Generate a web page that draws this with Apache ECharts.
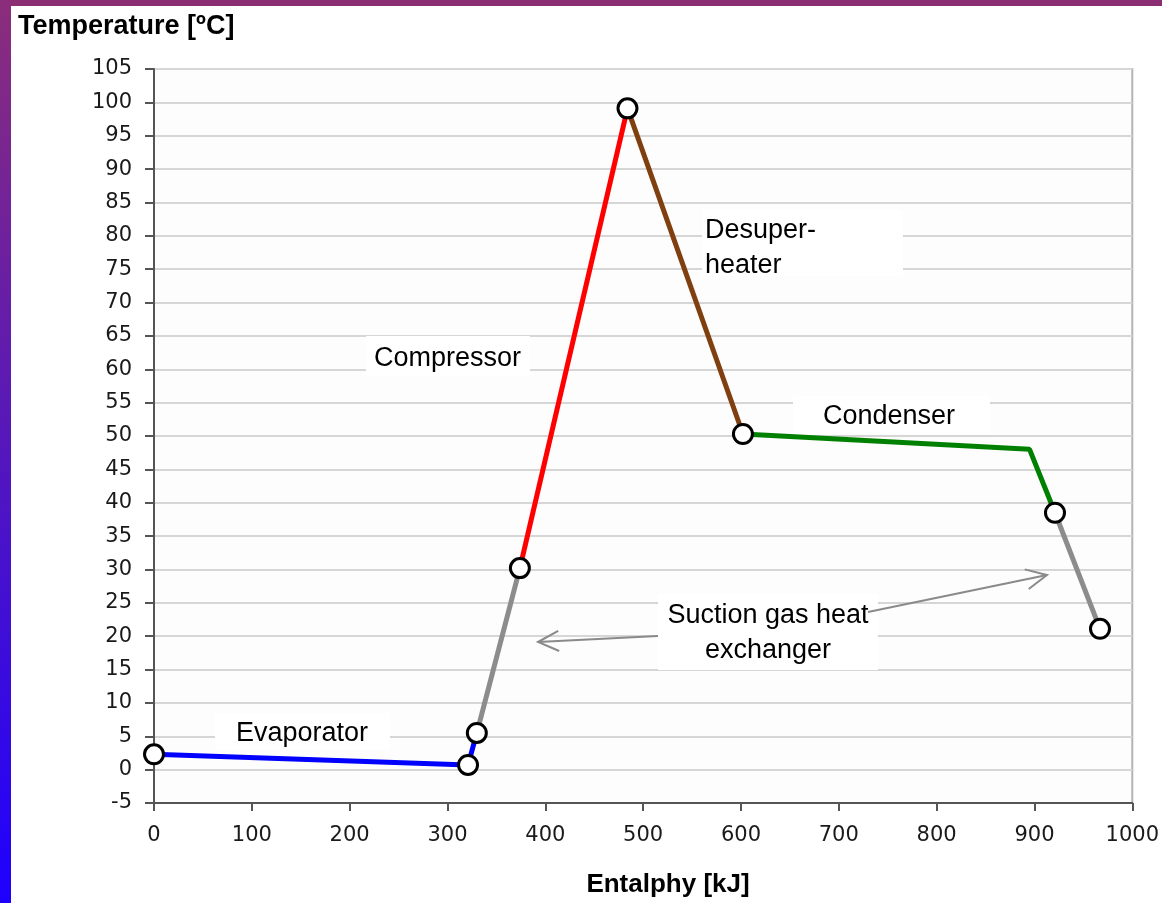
<!DOCTYPE html>
<html lang="en">
	<head>
		<meta charset="UTF-8" />
		<title>Temperature vs Enthalpy</title>
		<script src="https://cdn.jsdelivr.net/npm/echarts@6/dist/echarts.min.js"></script>
		<style>
			html, body { margin: 0; padding: 0; background: #fff; }
			#chart { width: 1162px; height: 903px; }
		</style>
	</head>
	<body>
		<div id="chart"></div>
		<script>
			// process points (enthalpy kJ, temperature C)
			const enthalpy = [0, 321, 330, 374, 484, 602, 895, 921, 967]
			const temperature = [2.3, 0.7, 5.5, 30.2, 99.1, 50.3, 48.0, 38.5, 21.1]
			// segments: [from index, to index, colour]
			const segments = [
				[0, 2, '#0000ff'],
				[2, 3, '#8c8c8c'],
				[3, 4, '#ff0000'],
				[4, 5, '#7f3f0f'],
				[5, 7, '#008000'],
				[7, 8, '#8c8c8c']
			]
			const markerIdx = [0, 1, 2, 3, 4, 5, 7, 8]

			const chart = echarts.init(document.getElementById('chart'), null, { renderer: 'canvas' })

			const lineSeries = segments.map(function (s) {
				const pts = []
				for (let i = s[0]; i <= s[1]; i++) pts.push([enthalpy[i], temperature[i]])
				return {
					type: 'line',
					data: pts,
					showSymbol: false,
					symbol: 'none',
					lineStyle: { color: s[2], width: 5 },
					z: 3,
					animation: false
				}
			})

			const labelFont = '27px "Liberation Sans", Arial, sans-serif'
			const tickFont = { fontFamily: 'DejaVu Sans', fontSize: 21, color: '#1a1a1a', formatter: function (v) { return String(v) } }

			function textBox(x, y, w, h, txt, tx, ty) {
				return [
					{ type: 'rect', shape: { x: x, y: y, width: w, height: h }, style: { fill: '#ffffff' }, z: 5 },
					{ type: 'text', x: tx, y: ty, style: { text: txt, font: labelFont, fill: '#000', lineHeight: 35 }, z: 6 }
				]
			}
			function arrow(x1, y1, x2, y2) {
				const ang = Math.atan2(y2 - y1, x2 - x1)
				const len = 23, spread = 0.45
				const a1 = [x2 - len * Math.cos(ang - spread), y2 - len * Math.sin(ang - spread)]
				const a2 = [x2 - len * Math.cos(ang + spread), y2 - len * Math.sin(ang + spread)]
				const st = { stroke: '#8a8a8a', lineWidth: 2, fill: null }
				return [
					{ type: 'polyline', shape: { points: [[x1, y1], [x2, y2]] }, style: st, z: 6 },
					{ type: 'polyline', shape: { points: [a1, [x2, y2], a2] }, style: st, z: 6 }
				]
			}

			const graphics = [].concat(
				// frame bands
				[
					{ type: 'rect', shape: { x: 0, y: 0, width: 1162, height: 6 }, style: { fill: '#8b2d72' }, z: 10 },
					{
						type: 'rect',
						shape: { x: 0, y: 0, width: 11, height: 903 },
						style: {
							fill: new echarts.graphic.LinearGradient(0, 0, 0, 1, [
								{ offset: 0, color: '#8b2d7a' },
								{ offset: 1, color: '#1e00ff' }
							])
						},
						z: 10
					},
					{ type: 'text', x: 18, y: 13, style: { text: 'Temperature [ºC]', font: 'bold 27px "Liberation Sans", Arial, sans-serif', fill: '#000' }, z: 10 },
					{ type: 'text', x: 668, y: 872, style: { text: 'Entalphy [kJ]', font: 'bold 26px "Liberation Sans", Arial, sans-serif', fill: '#000', align: 'center' }, z: 10 }
				],
				textBox(215, 713, 175, 36, 'Evaporator', 236, 716),
				textBox(366, 336, 164, 40, 'Compressor', 374, 341),
				textBox(702, 210, 201, 66, 'Desuper-\nheater', 705, 213),
				textBox(793, 396, 197, 38, 'Condenser', 823, 399),
				textBox(658, 594, 220, 76, 'Suction gas heat\nexchanger', 768, 598).map(function (g) {
					if (g.type === 'text') g.style.align = 'center'
					return g
				}),
				arrow(658, 636, 538, 642),
				arrow(868, 612, 1047, 575)
			)

			const option = {
				animation: false,
				backgroundColor: '#ffffff',
				grid: {
					left: 154,
					right: 29,
					top: 69,
					bottom: 100,
					show: true,
					backgroundColor: '#fdfdfd',
					borderColor: '#b4b4b4',
					borderWidth: 2
				},
				xAxis: {
					type: 'value',
					min: 0,
					max: 1000,
					interval: 100,
					axisLine: { onZero: false, lineStyle: { color: '#555', width: 2 } },
					axisTick: { show: true, length: 8, lineStyle: { color: '#555', width: 2 } },
					axisLabel: Object.assign({ margin: 22 }, tickFont),
					splitLine: { show: false }
				},
				yAxis: {
					type: 'value',
					min: -5,
					max: 105,
					interval: 5,
					axisLine: { show: true, onZero: false, lineStyle: { color: '#555', width: 2 } },
					axisTick: { show: true, length: 9, lineStyle: { color: '#555', width: 2 } },
					axisLabel: Object.assign({ margin: 22 }, tickFont),
					splitLine: { show: true, lineStyle: { color: '#d6d6d6', width: 2 } }
				},
				series: lineSeries.concat([
					{
						type: 'scatter',
						data: markerIdx.map(function (i) { return [enthalpy[i], temperature[i]] }),
						symbol: 'circle',
						symbolSize: 19,
						itemStyle: { color: '#ffffff', borderColor: '#000000', borderWidth: 3, opacity: 1 },
						z: 4
					}
				]),
				graphic: graphics
			}
			chart.setOption(option)
		</script>
	</body>
</html>
